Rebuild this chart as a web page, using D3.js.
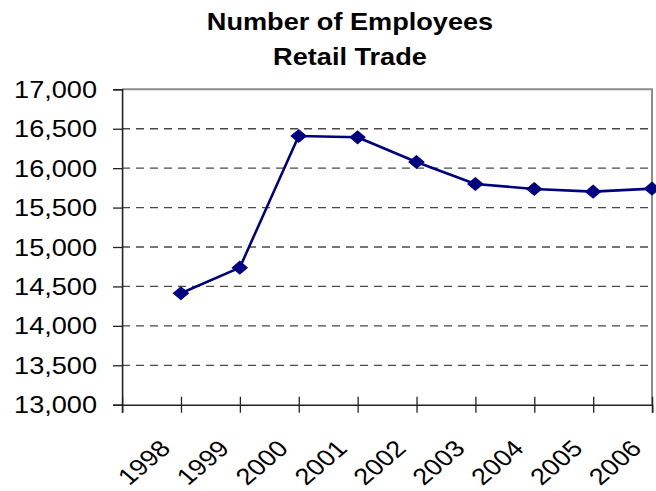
<!DOCTYPE html>
<html>
<head>
<meta charset="utf-8">
<script src="https://cdn.jsdelivr.net/npm/d3@7"></script>
<style>
  html, body { margin: 0; padding: 0; background: #fff; }
  svg { display: block; }
  text { font-family: Arial, "Liberation Sans", Helvetica, sans-serif; fill: #000; }
</style>
</head>
<body>
<div id="chart"></div>
<script>
// Retail trade employment by year
const years = [1998, 1999, 2000, 2001, 2002, 2003, 2004, 2005, 2006];
const employees = [14413, 14738, 16408, 16391, 16078, 15799, 15736, 15702, 15740];
const yTicks = [13000, 13500, 14000, 14500, 15000, 15500, 16000, 16500, 17000];
const titleLines = ["Number of Employees", "Retail Trade"];

const W = 656, H = 491;
// The drawing is laid out in a narrower coordinate space and widened to fill the page
const SX = 1.18;
const vbW = W / SX;

const svg = d3.select("#chart").append("svg")
  .attr("width", W).attr("height", H)
  .attr("viewBox", `0 0 ${vbW} ${H}`)
  .attr("preserveAspectRatio", "none");

const plot = { left: 122 / SX, right: 652 / SX, top: 89.3, bottom: 404.7 };

const x = d3.scaleLinear()
  .domain([years[0] - 1, years[years.length - 1]])
  .range([plot.left, plot.right]);
const y = d3.scaleLinear()
  .domain([yTicks[0], yTicks[yTicks.length - 1]])
  .range([plot.bottom, plot.top]);

// Title
svg.append("text")
  .attr("x", 350 / SX).attr("text-anchor", "middle")
  .attr("font-size", 23).attr("font-weight", "bold")
  .selectAll("tspan").data(titleLines).join("tspan")
  .attr("x", 350 / SX)
  .attr("y", (d, i) => i === 0 ? 30 : 65)
  .text(d => d);

// Dashed gridlines
svg.append("g")
  .selectAll("line")
  .data(yTicks.slice(1, -1))
  .join("line")
  .attr("x1", plot.left).attr("x2", plot.right)
  .attr("y1", d => y(d)).attr("y2", d => y(d))
  .attr("stroke", "#4a4a4a").attr("stroke-width", 1.3)
  .attr("stroke-dasharray", "8,6")
  .attr("vector-effect", "non-scaling-stroke");

// Top and right frame
svg.append("path")
  .attr("d", `M${plot.left},${plot.top}H${plot.right}V${plot.bottom}`)
  .attr("fill", "none").attr("stroke", "#8c8c8c").attr("stroke-width", 2)
  .attr("vector-effect", "non-scaling-stroke");

// Y axis
const yAxis = svg.append("g")
  .attr("transform", `translate(${plot.left},0)`)
  .call(d3.axisLeft(y).tickValues(yTicks).tickSize(9 / SX).tickPadding(0)
    .tickFormat(d3.format(",")));
yAxis.select(".domain").attr("stroke", "#222").attr("stroke-width", 1.6)
  .attr("vector-effect", "non-scaling-stroke");
yAxis.selectAll(".tick line").attr("stroke", "#222").attr("stroke-width", 1.3)
  .attr("vector-effect", "non-scaling-stroke");
yAxis.selectAll(".tick text")
  .attr("x", -(122 - 97) / SX).attr("dy", "0.35em")
  .attr("font-size", 23).attr("font-family", null).attr("fill", "#000");

// X axis with ticks crossing the axis line
const xTickVals = [years[0] - 1].concat(years);
const xAxis = svg.append("g")
  .attr("transform", `translate(0,${plot.bottom})`)
  .call(d3.axisBottom(x).tickValues(xTickVals).tickSize(8).tickFormat(""));
xAxis.select(".domain").attr("stroke", "#222").attr("stroke-width", 1.6)
  .attr("vector-effect", "non-scaling-stroke");
xAxis.selectAll(".tick line").attr("y1", -8).attr("y2", 8)
  .attr("stroke", "#222").attr("stroke-width", 1.3)
  .attr("vector-effect", "non-scaling-stroke");

// Rotated year labels
svg.append("g")
  .selectAll("text")
  .data(years)
  .join("text")
  .attr("text-anchor", "end")
  .attr("font-size", 23)
  .attr("transform", d => `translate(${x(d) - 9 / SX},450) rotate(-45)`)
  .text(d => d);

// Series line
const line = d3.line()
  .x((d, i) => x(years[i]))
  .y(d => y(d));
svg.append("path")
  .datum(employees)
  .attr("d", line)
  .attr("fill", "none")
  .attr("stroke", "#000080")
  .attr("stroke-width", 2.6)
  .attr("stroke-linejoin", "round")
  .attr("vector-effect", "non-scaling-stroke");

// Diamond markers
const diamond = d3.symbol().type(d3.symbolSquare).size(82);
svg.append("g")
  .selectAll("path")
  .data(employees)
  .join("path")
  .attr("d", diamond)
  .attr("transform", (d, i) => `translate(${x(years[i])},${y(d)}) rotate(45)`)
  .attr("fill", "#000080")
  .attr("stroke", "#000080")
  .attr("stroke-width", 1)
  .attr("vector-effect", "non-scaling-stroke");
</script>
</body>
</html>
